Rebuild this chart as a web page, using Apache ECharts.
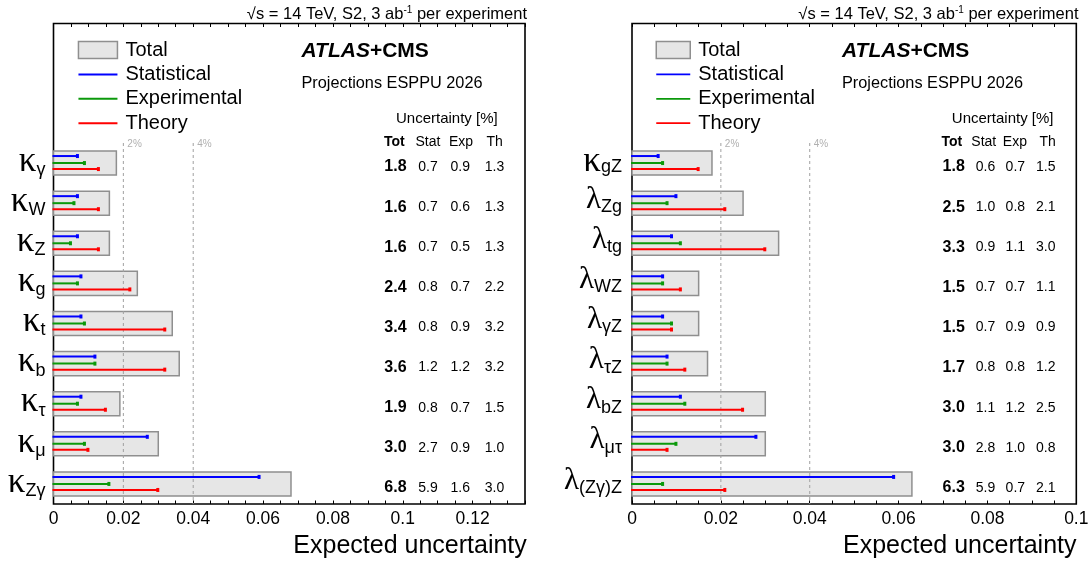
<!DOCTYPE html>
<html>
<head>
<meta charset="utf-8">
<script src="https://cdn.jsdelivr.net/npm/echarts@6/dist/echarts.min.js"></script>
<style>
html, body { margin: 0; padding: 0; background: #fff; }
#chart { width: 1092px; height: 562px; }
</style>
</head>
<body>
<div id="chart"></div>
<script>
// left panel (kappa framework), values in %
var leftSymbols = ['κ', 'κ', 'κ', 'κ', 'κ', 'κ', 'κ', 'κ', 'κ'];
var leftSubs = ['γ', 'W', 'Z', 'g', 't', 'b', 'τ', 'μ', 'Zγ'];
var leftTot = [1.8, 1.6, 1.6, 2.4, 3.4, 3.6, 1.9, 3.0, 6.8];
var leftStat = [0.7, 0.7, 0.7, 0.8, 0.8, 1.2, 0.8, 2.7, 5.9];
var leftExp = [0.9, 0.6, 0.5, 0.7, 0.9, 1.2, 0.7, 0.9, 1.6];
var leftTh = [1.3, 1.3, 1.3, 2.2, 3.2, 3.2, 1.5, 1.0, 3.0];

// right panel (ratio framework), values in %
var rightSymbols = ['κ', 'λ', 'λ', 'λ', 'λ', 'λ', 'λ', 'λ', 'λ'];
var rightSubs = ['gZ', 'Zg', 'tg', 'WZ', 'γZ', 'τZ', 'bZ', 'μτ', '(Zγ)Z'];
var rightTot = [1.8, 2.5, 3.3, 1.5, 1.5, 1.7, 3.0, 3.0, 6.3];
var rightStat = [0.6, 1.0, 0.9, 0.7, 0.7, 0.8, 1.1, 2.8, 5.9];
var rightExp = [0.7, 0.8, 1.1, 0.7, 0.9, 0.8, 1.2, 1.0, 0.7];
var rightTh = [1.5, 2.1, 3.0, 1.1, 0.9, 1.2, 2.5, 0.8, 2.1];

var leftMax = 0.135;
var rightMax = 0.1;
var guideLines = [0.02, 0.04];

var FONT = '"Liberation Sans", Arial, Helvetica, sans-serif';
var SERIF = '"Liberation Serif", "Times New Roman", serif';
var BLUE = '#0000ff', GREEN = '#0b990b', RED = '#ff0000';
var BOX_FILL = '#e6e6e6', BOX_EDGE = '#8f8f8f';
var LINE_ICON = 'path://M0,0M0,7.5L39,7.5L39,9.5L0,9.5ZM39,17';

var chart = echarts.init(document.getElementById('chart'));

function toPoints(values) {
  return values.map(function (v, i) { return [v / 100, i]; });
}

function renderBox(params, api) {
  var y = api.value(1);
  var s = api.coord([0, y]);
  var e = api.coord([api.value(0), y]);
  var h = api.size([0, 1])[1] * 0.6;
  return {
    type: 'rect',
    shape: { x: s[0], y: s[1] - h / 2, width: e[0] - s[0], height: h },
    style: { fill: BOX_FILL, stroke: BOX_EDGE, lineWidth: 1.5 }
  };
}

function lineRenderer(offset, color) {
  return function (params, api) {
    var y = api.value(1);
    var s = api.coord([0, y]);
    var e = api.coord([api.value(0), y]);
    var yy = s[1] + api.size([0, 1])[1] * offset;
    return {
      type: 'group',
      children: [
        { type: 'line', shape: { x1: s[0] - 1, y1: yy, x2: e[0], y2: yy }, style: { stroke: color, lineWidth: 2 } },
        { type: 'rect', shape: { x: e[0] - 2, y: yy - 2, width: 3, height: 4 }, style: { fill: color } }
      ]
    };
  };
}

function renderGuide(params, api) {
  var x = api.coord([api.value(0), 0])[0];
  var cs = params.coordSys;
  return {
    type: 'group',
    children: [
      { type: 'line', shape: { x1: x, y1: cs.y, x2: x, y2: cs.y + cs.height },
        style: { stroke: '#a0a0a0', lineWidth: 1, lineDash: [3, 3] } },
      { type: 'text', style: { text: Math.round(api.value(0) * 100) + '%', x: x + 4, y: cs.y + 1,
        fill: '#b0b0b0', fontSize: 10, fontFamily: FONT, verticalAlign: 'middle' } }
    ]
  };
}

function tickLabel(value) {
  var r = value / 0.02;
  if (Math.abs(r - Math.round(r)) > 1e-6) return '';
  return value === 0 ? '0' : String(+value.toFixed(2));
}

function panelSeries(xi, yi, tot, stat, exp, th) {
  return [
    { type: 'custom', name: 'Total', xAxisIndex: xi, yAxisIndex: yi, z: 2, renderItem: renderBox,
      itemStyle: { color: BOX_FILL }, encode: { x: 0, y: 1 }, data: toPoints(tot) },
    { type: 'custom', name: 'guide', xAxisIndex: xi, yAxisIndex: yi, z: 3, renderItem: renderGuide,
      encode: { x: 0 }, data: guideLines.map(function (v) { return [v]; }), silent: true },
    { type: 'custom', name: 'Statistical', xAxisIndex: xi, yAxisIndex: yi, z: 4, renderItem: lineRenderer(-0.175, BLUE),
      itemStyle: { color: BLUE }, encode: { x: 0, y: 1 }, data: toPoints(stat) },
    { type: 'custom', name: 'Experimental', xAxisIndex: xi, yAxisIndex: yi, z: 4, renderItem: lineRenderer(0, GREEN),
      itemStyle: { color: GREEN }, encode: { x: 0, y: 1 }, data: toPoints(exp) },
    { type: 'custom', name: 'Theory', xAxisIndex: xi, yAxisIndex: yi, z: 4, renderItem: lineRenderer(0.15, RED),
      itemStyle: { color: RED }, encode: { x: 0, y: 1 }, data: toPoints(th) }
  ];
}

function legendFor(left, boxW) {
  return {
    left: left, top: 40, orient: 'vertical', selectedMode: false, padding: 0,
    itemWidth: boxW, itemHeight: 17, itemGap: 4.4,
    textStyle: { fontSize: 20, fontFamily: FONT, color: '#000', padding: [0, 0, 0, 3] },
    data: [
      { name: 'Total', icon: 'rect', itemStyle: { color: BOX_FILL, borderColor: BOX_EDGE, borderWidth: 1.5 } },
      { name: 'Statistical', icon: LINE_ICON, itemStyle: { color: BLUE, borderWidth: 0 } },
      { name: 'Experimental', icon: LINE_ICON, itemStyle: { color: GREEN, borderWidth: 0 } },
      { name: 'Theory', icon: LINE_ICON, itemStyle: { color: RED, borderWidth: 0 } }
    ]
  };
}

function frameAxis(gi, max, pos) {
  return {
    type: 'value', gridIndex: gi, position: pos, min: 0, max: max, interval: 0.005,
    axisLine: { show: false }, splitLine: { show: false },
    axisTick: { inside: true, length: 3.5, lineStyle: { color: '#000', width: 1 } },
    axisLabel: { show: false }
  };
}

function barAxis(gi, max) {
  return {
    type: 'value', gridIndex: gi, position: 'bottom', min: 0, max: max, interval: 0.02,
    axisLine: { show: false }, splitLine: { show: false },
    axisTick: { inside: true, length: 6, lineStyle: { color: '#000', width: 1 } },
    axisLabel: { formatter: tickLabel, fontSize: 17.5, fontFamily: FONT, color: '#000', margin: 6 }
  };
}

function labelAxis(gi, symbols, subs, margin, subPad, bottomPad) {
  return {
    type: 'category', gridIndex: gi, position: 'left', inverse: true,
    data: symbols.map(function (s, i) { return s + subs[i]; }),
    axisLine: { show: false }, axisTick: { show: false },
    axisLabel: {
      margin: margin, padding: [0, 0, bottomPad, 0],
      formatter: function (v, i) {
        var key = symbols[i] === 'κ' ? 'kap' : 'lam';
        return '{' + key + '|' + symbols[i] + '}{sub|' + subs[i] + '}';
      },
      rich: {
        kap: { fontFamily: SERIF, fontSize: 35, lineHeight: 30, verticalAlign: 'top', color: '#000' },
        lam: { fontFamily: SERIF, fontSize: 31, lineHeight: 30, verticalAlign: 'top', color: '#000' },
        sub: { fontFamily: FONT, fontSize: 18, lineHeight: 18, padding: [subPad, 0, 0, 0], verticalAlign: 'top', color: '#000' }
      }
    }
  };
}

function tableAxis(gi, tot, stat, exp, th, margin, widths) {
  return {
    type: 'category', gridIndex: gi, position: 'right', inverse: true,
    data: tot.map(function (v, i) { return 'r' + i; }),
    axisLine: { show: false }, axisTick: { show: false },
    axisLabel: {
      inside: true, margin: margin, padding: [8, 0, 0, 0],
      formatter: function (v, i) {
        return '{c0|' + tot[i].toFixed(1) + '}{c1|' + stat[i].toFixed(1) + '}{c2|' + exp[i].toFixed(1) + '}{c3|' + th[i].toFixed(1) + '}';
      },
      rich: {
        c0: { fontFamily: FONT, fontWeight: 'bold', fontSize: 16, width: widths[0], align: 'left', color: '#000' },
        c1: { fontFamily: FONT, fontSize: 14, width: widths[1], align: 'left', color: '#000' },
        c2: { fontFamily: FONT, fontSize: 14, width: widths[2], align: 'left', color: '#000' },
        c3: { fontFamily: FONT, fontSize: 14, width: widths[3], align: 'left', color: '#000' }
      }
    }
  };
}

function hiddenY(gi) {
  return { type: 'value', gridIndex: gi, show: false };
}

function textEl(x, y, text, size, align, extra) {
  var style = { text: text, x: x, y: y, fontSize: size, fontFamily: FONT, fill: '#000', align: align, verticalAlign: 'middle' };
  for (var k in extra) style[k] = extra[k];
  return { type: 'text', style: style, z: 10 };
}

function panelTexts(titleRight, atlasLeft, uncRight, headX) {
  var sup = { sup: { fontSize: 10, fontFamily: FONT, verticalAlign: 'top', padding: [0, 0, 8, 0], fill: '#000' } };
  return [
    textEl(titleRight, 14, '√s = 14 TeV, S2, 3 ab{sup|-1} per experiment', 16.5, 'right', { rich: sup }),
    textEl(atlasLeft, 51, '{i|ATLAS}{b|+CMS}', 21, 'left', {
      rich: {
        i: { fontSize: 21, fontFamily: FONT, fontWeight: 'bold', fontStyle: 'italic', fill: '#000' },
        b: { fontSize: 21, fontFamily: FONT, fontWeight: 'bold', fill: '#000' }
      }
    }),
    textEl(atlasLeft, 83.5, 'Projections ESPPU 2026', 16.3, 'left', {}),
    textEl(uncRight, 119, 'Uncertainty [%]', 15, 'right', {}),
    textEl(headX[0], 142.5, 'Tot', 14, 'left', { fontWeight: 'bold' }),
    textEl(headX[1], 142.5, 'Stat', 14, 'left', {}),
    textEl(headX[2], 142.5, 'Exp', 14, 'left', {}),
    textEl(headX[3], 142.5, 'Th', 14, 'left', {})
  ];
}

var graphics = []
  .concat(panelTexts(527, 301.5, 497.7, [384, 415.5, 449, 486.5]))
  .concat(panelTexts(1078.5, 842, 1053.5, [941.5, 971.3, 1002.8, 1039.5]))
  .concat([
    textEl(526.8, 546.5, 'Expected uncertainty', 25, 'right', {}),
    textEl(1076.5, 546.5, 'Expected uncertainty', 25, 'right', {})
  ]);

chart.setOption({
  animation: false,
  backgroundColor: '#fff',
  grid: [
    { left: 53.5, top: 23.5, width: 471.5, height: 480.5, show: true, borderColor: '#000', borderWidth: 1.6, backgroundColor: 'transparent' },
    { left: 53.5, top: 143, width: 471.5, height: 361 },
    { left: 632, top: 23.5, width: 444.3, height: 480.5, show: true, borderColor: '#000', borderWidth: 1.6, backgroundColor: 'transparent' },
    { left: 632, top: 143, width: 444.3, height: 361 }
  ],
  xAxis: [
    frameAxis(0, leftMax, 'bottom'),
    frameAxis(0, leftMax, 'top'),
    barAxis(1, leftMax),
    frameAxis(2, rightMax, 'bottom'),
    frameAxis(2, rightMax, 'top'),
    barAxis(3, rightMax)
  ],
  yAxis: [
    hiddenY(0),
    labelAxis(1, leftSymbols, leftSubs, 8, 17, 8),
    tableAxis(1, leftTot, leftStat, leftExp, leftTh, 21, [34, 32.2, 34.3, 19.2]),
    hiddenY(2),
    labelAxis(3, rightSymbols, rightSubs, 10, 14, 8),
    tableAxis(3, rightTot, rightStat, rightExp, rightTh, 19.6, [33.2, 29.8, 30.4, 20.7])
  ],
  legend: [legendFor(77.7, 39), legendFor(655.5, 34)],
  graphic: graphics,
  series: panelSeries(2, 1, leftTot, leftStat, leftExp, leftTh)
    .concat(panelSeries(5, 4, rightTot, rightStat, rightExp, rightTh))
});
</script>
</body>
</html>
